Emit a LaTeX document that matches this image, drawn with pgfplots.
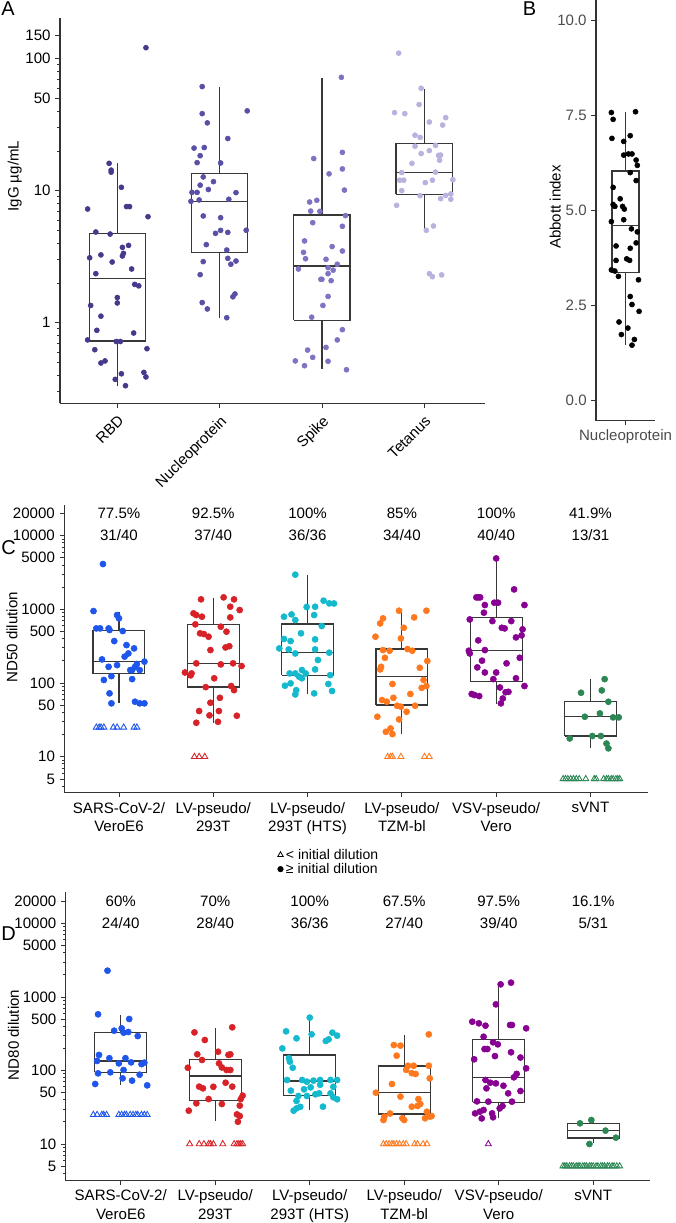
\documentclass[border=0pt]{standalone}
\usepackage{fontspec}
\setmainfont{Liberation Sans}
\usepackage{pgfplots}
\pgfplotsset{compat=1.18}
\definecolor{cRBD}{RGB}{72,56,140}
\definecolor{cNP}{RGB}{88,80,165}
\definecolor{cSP}{RGB}{125,115,195}
\definecolor{cTT}{RGB}{185,178,222}
\definecolor{cSARS}{RGB}{30,85,235}
\definecolor{cLV}{RGB}{215,35,40}
\definecolor{cHTS}{RGB}{20,185,205}
\definecolor{cTZM}{RGB}{255,120,30}
\definecolor{cVSV}{RGB}{135,0,145}
\definecolor{cSV}{RGB}{45,135,85}
\newcommand\tf{\fontsize{11.3}{13.5}\selectfont}
% box: left, centre, right, lower whisker, q1, median, q3, upper whisker
\newcommand\bx[8]{%
\addplot[boxline] coordinates {(#1,#5) (#3,#5) (#3,#7) (#1,#7) (#1,#5)};
\addplot[boxline] coordinates {(#1,#6) (#3,#6)};
\addplot[boxline] coordinates {(#2,#7) (#2,#8)};
\addplot[boxline] coordinates {(#2,#5) (#2,#4)};}
\newcommand\pc[3]{\node[font=\tf] at (axis cs:#1,20000) {#2};\node[font=\tf] at (axis cs:#1,10000) {#3};}
\pgfplotsset{
 base/.style={scale only axis, axis lines*=left, tick align=outside,
   major tick length=3.5pt, minor tick length=2pt,
   tick style={black!80, line width=0.6pt}, axis line style={black!80, line width=0.8pt},
   tick label style={font=\tf}, label style={font=\tf},
   /pgf/number format/assume math mode=true, anchor=north west, clip=false},
 boxline/.style={black!78, line width=0.9pt, forget plot},
 dot/.style={only marks, mark=*, mark size=1.9pt, color=#1, forget plot},
 bdot/.style={only marks, mark=*, mark size=2.3pt, color=#1, forget plot},
 tri/.style={only marks, mark=triangle, mark size=2.6pt, color=#1, mark options={line width=0.65pt}, forget plot},
}
\begin{document}
\begin{tikzpicture}
\useasboundingbox (0,0) rectangle (506.25pt,-917.25pt);
\node[anchor=north west, font=\fontsize{15}{17}\selectfont, inner sep=0pt] at (0.75pt,-0.75pt) {A};
\node[anchor=north west, font=\fontsize{15}{17}\selectfont, inner sep=0pt] at (392pt,-1pt) {B};
\node[anchor=north west, font=\fontsize{15}{17}\selectfont, inner sep=0pt] at (0.75pt,-405pt) {C};
\node[anchor=north west, font=\fontsize{15}{17}\selectfont, inner sep=0pt] at (0.75pt,-695pt) {D};
%%%%%%%%%%%%%%%%% A
\begin{axis}[base, at={(45pt,-13.73pt)}, width=318.75pt, height=288.75pt,
  ymode=log, ymin=0.245, ymax=202, xmin=0.44, xmax=4.594,
  xtick={1,2,3,4}, xticklabels={RBD,Nucleoprotein,Spike,Tetanus},
  xticklabel style={rotate=45, anchor=north east},
  ytick={1,10,50,100,150}, yticklabels={1,10,50,100,150},
  minor ytick={0.3,0.4,0.5,0.6,0.7,0.8,0.9,2,3,4,5,6,7,8,9,20,30,40,60,70,80,90},
  ylabel={IgG µg/mL}, ylabel style={at={(axis description cs:-0.134,0.59)}, anchor=north}]
\bx{0.725}{1}{1.275}{0.333}{0.727}{2.15}{4.72}{16.1}
\bx{1.725}{2}{2.275}{1.09}{3.41}{8.3}{13.4}{61.4}
\bx{2.725}{3}{3.275}{0.443}{1.04}{2.69}{6.55}{71.8}
\bx{3.725}{4}{4.275}{5.04}{9.4}{13.7}{22.9}{59.3}
\addplot[dot=cRBD] coordinates {(1.28,121)(0.92,16.1)(0.94,14.3)(0.94,13.8)(1.04,10.6)(0.71,7.26)(1.09,7.57)(1.12,7.57)(1.30,6.35)(0.79,4.86)(0.93,4.69)(1.11,3.85)(1.05,3.72)(1.06,3.35)(1.05,3.2)(0.84,3.26)(0.73,3.1)(0.95,2.88)(1.14,2.55)(0.79,2.35)(1.17,1.95)(1.21,1.9)(1.00,1.55)(1.00,1.41)(0.74,1.35)(0.84,1.12)(0.80,0.875)(1.16,0.835)(0.71,0.74)(0.99,0.72)(1.03,0.72)(0.78,0.624)(1.29,0.635)(0.84,0.495)(0.88,0.513)(1.26,0.42)(1.04,0.41)(1.28,0.388)(0.98,0.372)(1.08,0.333)};
\addplot[dot=cNP] coordinates {(1.83,61.4)(1.83,38.3)(2.27,40.2)(1.88,32.6)(2.08,24.8)(1.75,21.0)(1.85,21.2)(1.81,18.4)(1.78,16.3)(2.01,16.2)(1.84,12.7)(1.94,11.7)(1.81,11.0)(1.89,10.2)(1.73,9.7)(1.78,9.7)(2.16,9.66)(1.72,8.3)(1.80,8.5)(2.09,8.6)(1.84,6.43)(2.01,6.24)(2.26,5.01)(2.01,5.0)(1.96,4.75)(2.08,4.83)(1.87,3.9)(2.07,3.55)(2.08,3.07)(2.16,2.93)(1.84,2.9)(2.11,2.77)(1.81,2.31)(2.15,1.65)(2.13,1.57)(1.83,1.42)(1.88,1.27)(2.07,1.09)};
\addplot[dot=cSP] coordinates {(2.92,17.5)(3.07,13.4)(2.88,8.2)(2.95,8.45)(2.89,7.0)(2.98,6.97)(2.91,5.72)(2.83,4.16)(2.82,3.41)(3.10,3.77)(2.84,3.05)(3.04,3.02)(2.77,2.55)(3.06,2.61)(3.11,2.5)(2.99,2.13)(3.00,2.13)(3.06,2.35)(3.09,2.08)(3.06,1.58)(3.01,1.35)(2.90,1.1)(3.15,0.74)(3.04,0.65)(2.86,0.62)(2.91,0.546)(2.74,0.513)(2.83,0.472)(3.06,0.51)(3.19,72.2)(3.20,19.5)(3.20,14.6)(3.22,10.1)(3.23,6.47)(3.20,5.37)(3.20,3.49)(3.15,2.77)(3.20,0.885)(3.24,0.44)};
\addplot[dot=cTT] coordinates {(3.75,110)(3.97,59.6)(3.95,44.9)(3.71,39.0)(3.81,38.3)(4.21,35.7)(4.05,33.1)(4.18,31.4)(3.91,26.3)(3.96,25.3)(3.91,21.7)(4.11,22.0)(4.05,20.1)(3.97,19.1)(4.14,18.5)(4.16,18.6)(4.15,17.0)(3.88,16.1)(4.11,13.8)(3.78,13.7)(3.76,12.0)(3.80,12.0)(4.08,12.0)(4.01,11.5)(4.28,12.1)(4.26,9.44)(3.78,10.0)(3.96,9.16)(4.16,8.7)(4.21,9.2)(4.26,8.6)(3.73,7.74)(4.09,5.4)(4.02,5.01)(4.05,2.35)(4.08,2.23)(4.17,2.3)};
\end{axis}
%%%%%%%%%%%%%%%%% B
\begin{axis}[base, at={(447pt,0pt)}, width=44.25pt, height=315.5pt,
  ymin=-0.526, ymax=10.54, xmin=0.5, xmax=1.5,
  xtick={1}, xticklabels={Nucleoprotein},
  ytick={0,2.5,5,7.5,10}, yticklabels={0.0,2.5,5.0,7.5,10.0},
  tick label style={font=\tf, black!70},
  ylabel={Abbott index}, ylabel style={at={(axis description cs:-0.864,0.508)}, anchor=north}]
\bx{0.77}{1}{1.23}{1.46}{3.37}{4.61}{6.04}{7.6}
\addplot[dot=black] coordinates {(0.76,7.58)(1.17,7.6)(0.79,7.4)(0.77,6.9)(1.08,6.97)(0.97,6.82)(0.97,6.46)(1.05,6.49)(1.11,6.49)(1.18,6.33)(1.20,6.19)(1.08,6.0)(1.18,5.79)(0.79,5.61)(0.91,5.31)(0.79,5.16)(0.82,5.11)(0.95,5.11)(0.98,5.04)(0.76,4.71)(0.97,4.76)(1.10,4.52)(1.20,4.44)(1.18,4.15)(0.84,4.07)(1.08,4.01)(0.84,3.69)(1.02,3.73)(1.07,3.69)(0.76,3.44)(0.82,3.41)(0.88,3.27)(1.22,3.18)(1.08,2.74)(1.11,2.53)(1.23,2.35)(0.89,2.07)(1.04,1.91)(0.93,1.74)(1.15,1.61)(1.11,1.46)};
\end{axis}
%%%%%%%%%%%%%%%%% C
\begin{axis}[base, at={(48.2pt,-378.75pt)}, width=438pt, height=215.8pt,
  ymode=log, ymin=3.25, ymax=26000, xmin=0.42, xmax=6.613,
  xtick={1,2,3,4,5,6},
  xticklabels={{SARS-CoV-2/\\VeroE6},{LV-pseudo/\\293T},{LV-pseudo/\\293T (HTS)},{LV-pseudo/\\TZM-bl},{VSV-pseudo/\\Vero},{sVNT}},
  xticklabel style={align=center, font=\fontsize{11.3}{14.2}\selectfont, anchor=north},
  ytick={5,10,50,100,500,1000,5000,10000,20000},
  yticklabels={5,10,50,100,500,1000,5000,10000,20000},
  minor ytick={4,6,7,8,9,20,30,40,60,70,80,90,200,300,400,600,700,800,900,2000,3000,4000,6000,7000,8000,9000},
  ylabel={ND50 dilution}, ylabel style={at={(axis description cs:-0.107,0.54)}, anchor=north},
  legend style={at={(0.365,-0.185)}, anchor=north west, draw=none, fill=none, font=\fontsize{10.5}{11.5}\selectfont, row sep=-2.5pt, inner sep=0pt},
  legend cell align=left]
\addlegendimage{only marks, mark=triangle, mark size=2.4pt, black, mark options={line width=0.6pt}}
\addlegendentry{< initial dilution}
\addlegendimage{only marks, mark=*, mark size=2.1pt, black}
\addlegendentry{≥ initial dilution}
\pc{1}{77.5\%}{31/40}\pc{2}{92.5\%}{37/40}\pc{3}{100\%}{36/36}
\pc{4}{85\%}{34/40}\pc{5}{100\%}{40/40}\pc{6}{41.9\%}{13/31}
\bx{0.725}{1}{1.275}{53}{134}{194.5}{513}{927}
\bx{1.725}{2}{2.275}{29}{88.1}{184.5}{625}{1436}
\bx{2.725}{3}{3.275}{70}{127}{260}{631}{2950}
\bx{3.725}{4}{4.275}{20.1}{50.2}{122}{289}{927}
\bx{4.725}{5}{5.275}{51.9}{106}{274}{769}{4900}
\bx{5.725}{6}{6.275}{13.0}{19.1}{35.2}{55.7}{113}
\addplot[bdot=cSARS] coordinates {(0.83,4110)(0.73,946)(0.98,836)(1.00,754)(0.76,551)(0.80,551)(0.89,551)(0.90,524)(1.04,507)(0.95,371)(1.08,327)(1.16,295)(1.10,252)(1.06,228)(0.82,209)(1.27,195)(0.98,175)(1.19,181)(1.17,166)(0.89,166)(1.12,150)(1.14,150)(1.22,150)(0.84,110)(0.92,124)(1.14,113)(0.90,72.4)(0.92,53)(1.17,55.8)(1.22,53)(1.27,53)};
\addplot[tri=cSARS] coordinates {(0.76,25)(0.79,25)(0.81,25)(0.84,25)(0.94,25)(0.98,25)(1.05,25)(1.16,25)(1.19,25)};
\addplot[bdot=cLV] coordinates {(1.87,1365)(2.11,1452)(2.22,1365)(2.18,1084)(2.28,977)(1.79,881)(1.82,836)(1.88,794)(2.18,777)(1.81,625)(2.08,581)(2.14,497)(1.86,472)(1.90,462)(1.95,425)(1.97,280)(2.13,304)(2.17,316)(1.82,185)(2.08,179)(2.21,185)(2.30,170)(1.70,139)(1.77,135)(1.76,127)(2.01,116)(1.92,88)(2.19,91)(2.22,80)(2.07,63)(1.97,54)(1.85,41.7)(2.06,41.7)(1.96,36.4)(2.25,36)(1.82,28.9)(2.05,29.8)};
\addplot[tri=cLV] coordinates {(1.80,10)(1.85,10)(1.91,10)};
\addplot[bdot=cHTS] coordinates {(2.87,2950)(2.99,1074)(3.08,1084)(3.17,1309)(3.23,1203)(2.75,794)(2.83,853)(2.87,715)(3.07,836)(3.15,593)(2.93,472)(2.75,396)(2.82,371)(3.08,391)(2.70,295)(2.80,286)(2.87,252)(3.08,286)(3.23,258)(3.11,205)(2.81,135)(2.87,135)(2.94,150)(2.98,135)(3.08,153)(2.91,122)(2.94,116)(3.24,128)(2.76,92)(2.82,99)(3.22,97)(3.26,78)(2.88,80)(2.87,70)(3.07,72.4)(3.28,1200)};
\addplot[bdot=cTZM] coordinates {(3.97,957)(4.26,957)(3.80,754)(3.77,644)(4.13,777)(4.02,562)(3.72,425)(3.99,403)(3.80,280)(3.87,274)(4.06,289)(4.11,274)(3.82,220)(4.27,199)(3.78,166)(3.77,153)(4.19,161)(3.90,97)(4.26,91)(4.21,86)(4.09,71)(3.91,63)(3.79,58.8)(3.84,55.8)(4.14,49.2)(3.95,49.2)(3.99,47.7)(4.05,40.8)(3.74,34.9)(3.97,32.1)(3.88,24.2)(3.83,21.8)(3.90,20.3)(4.23,110)};
\addplot[tri=cTZM] coordinates {(3.85,10)(3.88,10)(3.90,10)(3.99,10)(4.24,10)(4.29,10)};
\addplot[bdot=cVSV] coordinates {(5.00,4900)(5.19,1862)(4.79,1452)(4.81,1452)(4.83,1452)(4.88,1143)(4.98,1230)(5.02,1230)(5.30,1143)(4.87,900)(4.72,729)(4.96,692)(5.16,692)(5.06,562)(5.09,551)(5.28,535)(5.21,416)(5.27,443)(4.81,379)(4.71,274)(4.72,252)(4.88,280)(5.25,220)(4.85,201)(5.11,185)(4.80,163)(4.88,139)(5.00,139)(5.21,116)(4.97,113)(5.30,91)(5.04,87)(5.10,75)(5.13,76)(4.74,71)(4.77,68.7)(4.82,66.5)(5.07,61.7)(5.05,53)};
\addplot[bdot=cSV] coordinates {(6.15,113)(5.90,73.8)(6.12,79.4)(6.19,55.7)(5.94,34.9)(6.10,38.7)(6.24,34.2)(6.30,34.2)(5.78,17.7)(6.02,19.1)(6.11,19.1)(6.17,15.1)(6.19,13)};
\addplot[tri=cSV] coordinates {(5.71,5)(5.735,5)(5.76,5)(5.79,5)(5.82,5)(5.85,5)(5.88,5)(5.95,5)(6.04,5)(6.06,5)(6.14,5)(6.17,5)(6.19,5)(6.22,5)(6.24,5)(6.27,5)(6.29,5)(6.31,5)};
\end{axis}
%%%%%%%%%%%%%%%%% D
\begin{axis}[base, at={(49.3pt,-669pt)}, width=438.2pt, height=216.5pt,
  ymode=log, ymin=3.17, ymax=26800, xmin=0.418, xmax=6.601,
  xtick={1,2,3,4,5,6},
  xticklabels={{SARS-CoV-2/\\VeroE6},{LV-pseudo/\\293T},{LV-pseudo/\\293T (HTS)},{LV-pseudo/\\TZM-bl},{VSV-pseudo/\\Vero},{sVNT}},
  xticklabel style={align=center, font=\fontsize{11.3}{14.2}\selectfont, anchor=north},
  ytick={5,10,50,100,500,1000,5000,10000,20000},
  yticklabels={5,10,50,100,500,1000,5000,10000,20000},
  minor ytick={4,6,7,8,9,20,30,40,60,70,80,90,200,300,400,600,700,800,900,2000,3000,4000,6000,7000,8000,9000},
  ylabel={ND80 dilution}, ylabel style={at={(axis description cs:-0.107,0.505)}, anchor=north}]
\pc{1}{60\%}{24/40}\pc{2}{70\%}{28/40}\pc{3}{100\%}{36/36}
\pc{4}{67.5\%}{27/40}\pc{5}{97.5\%}{39/40}\pc{6}{16.1\%}{5/31}
\bx{0.725}{1}{1.275}{63.5}{94.4}{135}{327}{569}
\bx{1.725}{2}{2.275}{20.6}{38.9}{84.1}{142}{383}
\bx{2.725}{3}{3.275}{29}{45.5}{72}{163}{524}
\bx{3.725}{4}{4.275}{22}{25.6}{49.9}{115}{308}
\bx{4.725}{5}{5.275}{22.3}{36.9}{80.7}{265}{1486}
\bx{5.725}{6}{6.275}{10.2}{12.1}{15.2}{19.1}{21.2}
\addplot[bdot=cSARS] coordinates {(0.86,2280)(0.76,581)(1.09,502)(0.93,348)(1.01,375)(1.03,327)(1.08,334)(1.18,294)(0.77,163)(0.88,147)(1.05,147)(0.75,135)(0.98,125)(1.11,129)(1.22,122)(1.25,128)(0.76,91.4)(0.89,94.4)(1.03,101.6)(1.20,87.7)(1.02,78.2)(1.12,72.8)(0.73,65.5)(1.28,62.8)};
\addplot[tri=cSARS] coordinates {(0.71,25)(0.75,25)(0.80,25)(0.82,25)(0.85,25)(0.98,25)(1.01,25)(1.04,25)(1.06,25)(1.10,25)(1.13,25)(1.16,25)(1.18,25)(1.22,25)(1.25,25)(1.28,25)};
\addplot[bdot=cLV] coordinates {(2.18,387)(1.78,330)(1.89,260)(2.03,180)(1.81,166)(1.86,139)(2.14,163)(2.16,166)(1.71,109)(2.04,125)(2.07,110)(2.12,101.6)(2.16,101.6)(1.83,60.3)(1.87,57.2)(2.11,68.2)(2.18,60.3)(2.29,45.5)(2.27,40.9)(1.93,40.9)(1.80,35.8)(2.07,35)(2.26,33.3)(1.72,28.4)(2.23,25.3)(2.26,24)(2.24,20.1)(1.98,60)};
\addplot[tri=cLV] coordinates {(1.73,10)(1.83,10)(1.88,10)(1.93,10)(1.95,10)(1.98,10)(2.08,10)(2.20,10)(2.23,10)(2.25,10)(2.27,10)(2.29,10)};
\addplot[bdot=cHTS] coordinates {(3.00,524)(2.75,341)(2.86,274)(3.02,310)(3.24,327)(3.29,298)(3.17,252)(3.20,265)(2.71,200)(2.78,147)(2.79,132)(2.82,109)(2.76,74.3)(2.92,74.3)(2.97,70.5)(3.04,72.8)(3.11,74.3)(3.22,74.3)(3.29,74.3)(3.01,59)(2.80,53.2)(2.94,55.5)(3.22,48.9)(3.10,48.9)(2.97,45)(2.88,45)(3.29,40.6)(3.25,43.2)(2.86,38.5)(3.14,32.2)(2.86,30.5)(2.83,28.4)(3.06,47.4)(3.11,64)(2.90,32)(3.25,60)};
\addplot[bdot=cTZM] coordinates {(4.26,310)(3.89,222)(3.96,218)(3.92,159)(4.04,116)(4.10,116)(4.26,116)(4.02,102)(4.12,89.6)(4.27,78.2)(3.87,65.5)(3.70,49.9)(3.96,44.1)(4.15,40.9)(4.08,32.2)(4.14,32.9)(4.17,35)(4.24,27.5)(4.22,22.4)(4.27,23.6)(4.29,24)(3.79,23.6)(3.78,21.2)(3.98,22.4)(4.00,21.2)(4.08,92)(3.85,26)};
\addplot[tri=cTZM] coordinates {(3.78,10)(3.81,10)(3.84,10)(3.87,10)(3.89,10)(3.92,10)(3.95,10)(3.99,10)(4.02,10)(4.11,10)(4.14,10)(4.20,10)(4.24,10)};
\addplot[bdot=cVSV] coordinates {(5.02,1486)(5.13,1567)(4.97,794)(4.72,461)(4.79,438)(4.86,407)(5.14,416)(5.12,416)(5.29,375)(4.84,288)(4.94,242)(4.99,227)(4.85,196)(4.88,196)(5.13,177)(4.96,157)(4.74,142)(5.23,150)(5.29,107)(5.16,80.7)(4.86,74.3)(4.91,68.2)(4.97,66.8)(4.87,57.2)(5.23,52.6)(5.10,48.9)(5.14,37.7)(4.89,37.7)(5.04,32.9)(5.01,30.5)(4.75,26.1)(4.80,27.5)(4.84,29)(4.93,26.1)(4.94,23.1)(4.82,22.3)(5.05,62)(4.77,38)(5.19,90)};
\addplot[tri=cVSV] coordinates {(4.89,10)};
\addplot[bdot=cSV] coordinates {(5.86,19.1)(5.98,21.2)(6.13,15.2)(6.24,12.2)(5.96,10.0)};
\addplot[tri=cSV] coordinates {(5.68,5)(5.70,5)(5.72,5)(5.75,5)(5.77,5)(5.79,5)(5.82,5)(5.84,5)(5.86,5)(5.89,5)(5.91,5)(5.93,5)(5.96,5)(5.98,5)(6.00,5)(6.03,5)(6.05,5)(6.08,5)(6.10,5)(6.12,5)(6.15,5)(6.17,5)(6.20,5)(6.22,5)(6.25,5)(6.28,5)};
\end{axis}
\end{tikzpicture}
\end{document}
